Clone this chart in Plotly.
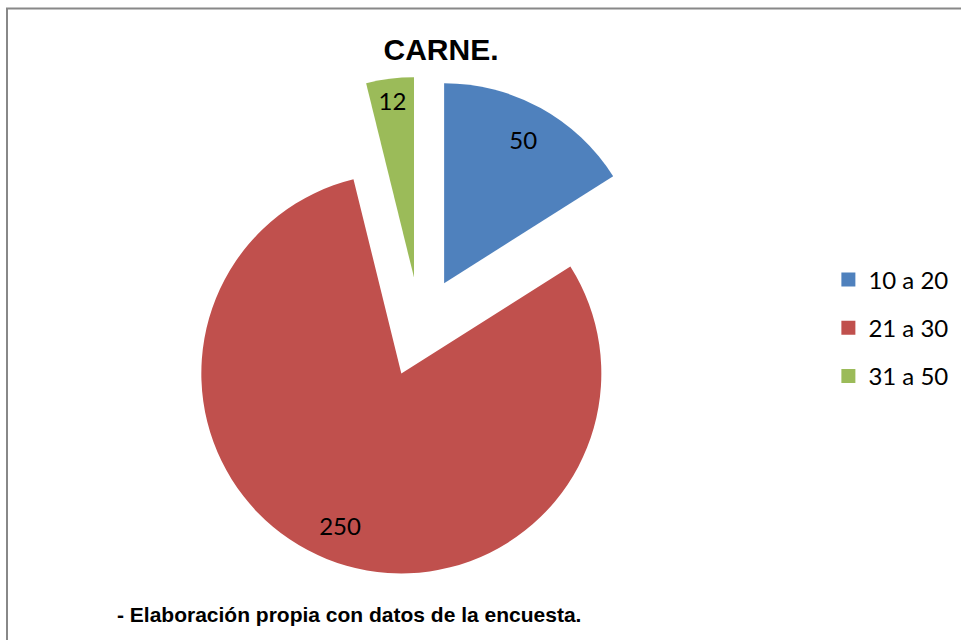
import plotly.graph_objects as go

# datos de la encuesta
rangos = ["10 a 20", "21 a 30", "31 a 50"]
cantidad = [50, 250, 12]

titulo = "CARNE."
fuente = "- Elaboración propia con datos de la encuesta."

colores = ["#4F81BD", "#C0504D", "#9BBB59"]
separacion = [0.25, 0.25, 0.25]

W, H = 961, 640

fig = go.Figure()

# pastel principal, sin texto
fig.add_trace(go.Pie(
    labels=rangos, values=cantidad, sort=False, direction="clockwise", rotation=0,
    pull=separacion, marker=dict(colors=colores, line=dict(width=0)),
    textinfo="none", showlegend=False, hoverinfo="label+value",
    domain=dict(x=[170 / W, 670 / W], y=[1 - 577 / H, 1 - 77 / H]),
))

# capa transparente con hueco para colocar las etiquetas cerca del borde
fig.add_trace(go.Pie(
    labels=rangos, values=cantidad, sort=False, direction="clockwise", rotation=0,
    pull=separacion, hole=0.64,
    marker=dict(colors=["rgba(0,0,0,0)"] * len(rangos), line=dict(width=0)),
    textinfo="value", textposition="inside", insidetextorientation="horizontal",
    textfont=dict(family="Lato", size=24, color="#000000"),
    showlegend=False, hoverinfo="skip",
    domain=dict(x=[170 / W, 670 / W], y=[1 - 577 / H, 1 - 77 / H]),
))

# leyenda
for nombre, c in zip(rangos, colores):
    fig.add_trace(go.Scatter(
        x=[None], y=[None], mode="markers", name=nombre, legendgroup=nombre,
        marker=dict(symbol="square", size=14, color=c),
    ))

fig.update_layout(
    width=W, height=H,
    margin=dict(l=0, r=0, t=0, b=0),
    paper_bgcolor="white", plot_bgcolor="white",
    xaxis=dict(visible=False), yaxis=dict(visible=False),
    title=dict(text="<b>" + titulo + "</b>", x=441 / W, xanchor="center",
               y=1 - 49 / H, yanchor="middle", yref="container",
               font=dict(family="Liberation Sans, Arial", size=30, color="#000000")),
    legend=dict(x=0.862, xanchor="left", y=1 - 328 / H, yanchor="middle",
                tracegroupgap=14, font=dict(family="Lato", size=24, color="#000000"),
                bgcolor="rgba(0,0,0,0)"),
    annotations=[dict(text="<b>" + fuente + "</b>", x=115 / W, y=1 - 614 / H,
                      xref="paper", yref="paper", xanchor="left", yanchor="middle",
                      showarrow=False,
                      font=dict(family="Liberation Sans, Arial", size=21, color="#000000"))],
    shapes=[dict(type="rect", xref="paper", yref="paper",
                 x0=7 / W, x1=1.05, y0=-0.05, y1=1 - 8.5 / H,
                 line=dict(color="#888888", width=2))],
)

fig.write_html("out.html", config={"displayModeBar": False},
               post_script="document.body.style.margin='0';")
